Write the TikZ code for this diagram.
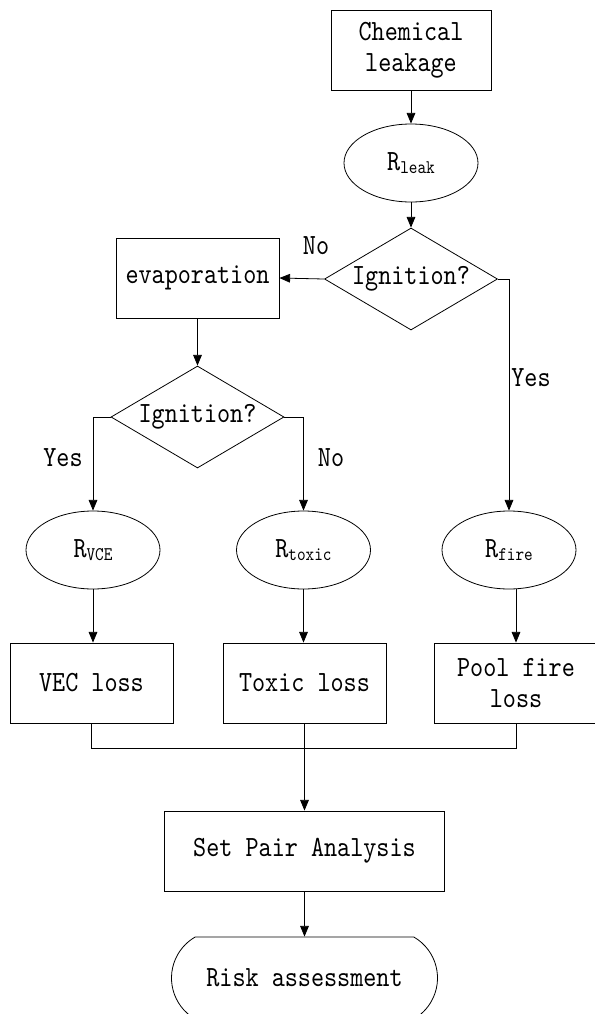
\documentclass[tikz,border=0pt]{standalone}
\usepackage{fontspec}
\newfontfamily\dfont{lmmono10-regular.otf}[FakeStretch=0.85]
\newcommand\lowsub[1]{\raisebox{-2.5pt}{\fontsize{14.5pt}{15pt}\selectfont #1}}
\usetikzlibrary{shapes.geometric,shapes.misc,arrows.meta}
\begin{document}
\begin{tikzpicture}[x=0.75pt,y=-0.75pt,
  every node/.style={font=\dfont\fontsize{22pt}{23pt}\selectfont, text=black},
  base/.style={draw=black, line width=0.6pt, inner sep=0pt, align=center},
  box/.style={base, rectangle, minimum width=122.25pt, minimum height=60pt},
  oval/.style={base, ellipse, minimum width=100.5pt, minimum height=58.5pt},
  decision/.style={base, diamond, aspect=1.7, minimum width=129.75pt, minimum height=76.5pt},
  terminal/.style={base, rounded rectangle, rounded rectangle arc length=120, minimum width=199.5pt, minimum height=61.5pt},
  lbl/.style={inner sep=0pt},
  line/.style={draw=black, line width=0.6pt},
  arr/.style={line, -{Triangle[length=8pt,width=6.5pt]}}
]
\useasboundingbox (0,0) rectangle (594,1014);

\node[box, minimum width=120pt] (chem) at (411,50) {Chemical\\leakage};
\node[oval] (rleak) at (411,163) {R\lowsub{leak}};
\node[decision] (d1) at (411,279) {Ignition?};
\node[box] (evap) at (197.5,278) {evaporation};
\node[decision] (d2) at (197.5,417) {Ignition?};
\node[oval] (rvce) at (93,550) {R\lowsub{VCE}};
\node[oval] (rtox) at (303.5,550) {R\lowsub{toxic}};
\node[oval] (rfire) at (509,550) {R\lowsub{fire}};
\node[box] (vec) at (91.5,683) {VEC loss};
\node[box] (tox) at (304.5,683) {Toxic loss};
\node[box] (pool) at (516,683) {Pool fire\\loss};
\node[box, minimum width=210pt] (spa) at (304.5,851) {Set Pair Analysis};
\node[terminal] (risk) at (304.5,978) {Risk assessment};

\node[lbl] (no1) at (316,246) {No};
\node[lbl] (yes1) at (531,378) {Yes};
\node[lbl] (yes2) at (63,458) {Yes};
\node[lbl] (no2) at (331,458) {No};

\draw[arr] (chem.south) -- (rleak.north);
\draw[arr] (rleak.south) -- (d1.north);
\draw[arr] (d1.west) -- (evap.east);
\draw[arr] (d1.east) -| (rfire.north);
\draw[arr] (evap.south) -- (d2.north);
\draw[arr] (d2.west) -| (rvce.north);
\draw[arr] (d2.east) -| (rtox.north);
\draw[arr] (rvce.south) -- (rvce.south |- vec.north);
\draw[arr] (rtox.south) -- (rtox.south |- tox.north);
\draw[arr] (rfire.south -| pool.north) -- (pool.north);
\draw[line] (vec.south) -- ++(0,25) -| (pool.south);
\draw[arr] (tox.south) -- (spa.north);
\draw[arr] (spa.south) -- (risk.north);
\end{tikzpicture}
\end{document}
